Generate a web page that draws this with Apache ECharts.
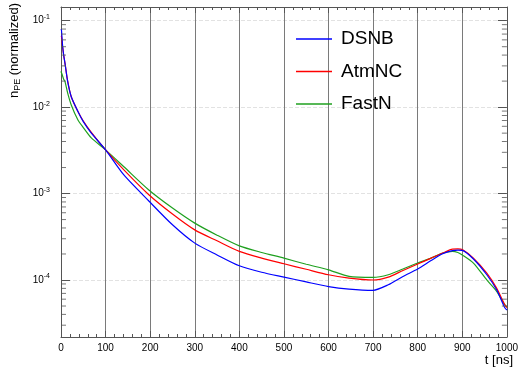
<!DOCTYPE html>
<html>
<head>
<meta charset="utf-8">
<script src="https://cdn.jsdelivr.net/npm/echarts@6/dist/echarts.min.js"></script>
<style>html,body{margin:0;padding:0;background:#fff;}#c{width:521px;height:368px;}</style>
</head>
<body>
<div id="c"></div>
<script>
var tValues = [0, 1, 3.5, 6, 9, 15, 23, 38, 50, 68, 100, 141, 197, 250, 300, 350, 400, 450, 500, 550, 600, 646, 700, 734, 767, 800, 830, 856, 878, 890, 900, 925, 955, 977, 995, 1000];
var dsnb = [0.080, 0.078, 0.052, 0.040, 0.032, 0.0197, 0.0132, 0.0089, 0.0068, 0.0050, 0.0032, 0.00164, 0.00082, 4.35e-4, 2.67e-4, 1.95e-4, 1.46e-4, 1.23e-4, 1.08e-4, 9.5e-5, 8.4e-5, 7.85e-5, 7.6e-5, 8.8e-5, 1.1e-4, 1.34e-4, 1.68e-4, 2.01e-4, 2.19e-4, 2.22e-4, 2.2e-4, 1.75e-4, 1.15e-4, 7.7e-5, 4.8e-5, 4.5e-5];
var atmNC = [0.067, 0.066, 0.050, 0.040, 0.032, 0.020, 0.0132, 0.0089, 0.0069, 0.0051, 0.0032, 0.00188, 0.00097, 5.8e-4, 3.8e-4, 2.84e-4, 2.14e-4, 1.79e-4, 1.54e-4, 1.33e-4, 1.15e-4, 1.05e-4, 1.0e-4, 1.08e-4, 1.29e-4, 1.53e-4, 1.79e-4, 2.05e-4, 2.28e-4, 2.29e-4, 2.25e-4, 1.79e-4, 1.2e-4, 8.05e-5, 5.2e-5, 4.8e-5];
var fastN = [0.026, 0.025, 0.023, 0.021, 0.0197, 0.0145, 0.0106, 0.0071, 0.0058, 0.0044, 0.0032, 0.00204, 0.0011, 6.8e-4, 4.55e-4, 3.3e-4, 2.48e-4, 2.08e-4, 1.79e-4, 1.52e-4, 1.31e-4, 1.1e-4, 1.07e-4, 1.15e-4, 1.34e-4, 1.57e-4, 1.79e-4, 2.05e-4, 2.14e-4, 2.08e-4, 1.95e-4, 1.57e-4, 1.0e-4, 7.4e-5, 5.2e-5, 4.9e-5];
var seriesNames = ['DSNB', 'AtmNC', 'FastN'];
var yMinorTicks = [3e-5, 4e-5, 5e-5, 6e-5, 7e-5, 8e-5, 9e-5, 2e-4, 3e-4, 4e-4, 5e-4, 6e-4, 7e-4, 8e-4, 9e-4, 2e-3, 3e-3, 4e-3, 5e-3, 6e-3, 7e-3, 8e-3, 9e-3, 2e-2, 3e-2, 4e-2, 5e-2, 6e-2, 7e-2, 8e-2, 9e-2];
var xMin = 0, xMax = 1000, yMin = 2.19e-5, yMax = 0.144;

function pairs(vals) { return tValues.map(function (t, i) { return [t, vals[i]]; }); }
var FONT = 'Liberation Sans';
var frame = '#555';
var chart = echarts.init(document.getElementById('c'), null, {renderer: 'canvas'});
var colors = ['#0000ff', '#ff0000', '#1fa01f'];
var lineSeries = [dsnb, atmNC, fastN].map(function (v, i) {
  return {
    name: seriesNames[i], type: 'line', data: pairs(v), showSymbol: false, symbol: 'none',
    smooth: 0.25, lineStyle: {color: colors[i], width: 1.2}, itemStyle: {color: colors[i]},
    z: 5 - i, xAxisIndex: 0, yAxisIndex: 0
  };
});
var minorLeft = {
  type: 'scatter', silent: true, symbol: 'rect', symbolSize: [5, 1], symbolOffset: [2.5, 0],
  itemStyle: {color: frame}, data: yMinorTicks.map(function (v) { return [xMin, v]; }), z: 10, clip: false
};
var minorRight = {
  type: 'scatter', silent: true, symbol: 'rect', symbolSize: [5, 1], symbolOffset: [-2.5, 0],
  itemStyle: {color: frame}, data: yMinorTicks.map(function (v) { return [xMax, v]; }), z: 10, clip: false
};
var xCommon = {
  type: 'value', min: xMin, max: xMax, interval: 100,
  axisLine: {show: true, onZero: false, lineStyle: {color: frame, width: 1}},
  axisTick: {show: true, inside: true, length: 6, lineStyle: {color: frame}},
  minorTick: {show: true, splitNumber: 5, length: 3, lineStyle: {color: frame}}
};
var yCommon = {
  type: 'log', logBase: 10, min: yMin, max: yMax,
  axisLine: {show: true, onZero: false, lineStyle: {color: frame, width: 1}},
  axisTick: {show: true, inside: true, length: 9, lineStyle: {color: frame}},
  minorTick: {show: false}
};
chart.setOption({
  animation: false,
  backgroundColor: '#fff',
  textStyle: {fontFamily: FONT},
  grid: {left: 61, right: 7, top: 7, bottom: 31, containLabel: false},
  xAxis: [
    Object.assign({}, xCommon, {
      position: 'bottom',
      axisLabel: {show: true, color: '#000', fontSize: 10, margin: 6, fontFamily: FONT,
        formatter: function (v) { return String(v); }},
      splitLine: {show: true, lineStyle: {color: '#7a7a7a', width: 1}}
    }),
    Object.assign({}, xCommon, {position: 'top', axisLabel: {show: false}, splitLine: {show: false}})
  ],
  yAxis: [
    Object.assign({}, yCommon, {
      position: 'left',
      axisLabel: {
        show: true, showMinLabel: false, showMaxLabel: false, margin: 11,
        formatter: function (v) { var e = Math.round(Math.log10(v)); return '{b|10}{p|' + e + '}'; },
        rich: {
          b: {fontSize: 10, color: '#000', fontFamily: FONT},
          p: {fontSize: 7, color: '#000', fontFamily: FONT, padding: [0, 0, 7, 0]}
        }
      },
      splitLine: {show: true, lineStyle: {color: '#e2e2e2', type: 'dashed', width: 1}}
    }),
    Object.assign({}, yCommon, {position: 'right', axisLabel: {show: false}, splitLine: {show: false}})
  ],
  legend: {
    orient: 'vertical', left: 296, top: 29, padding: 0, itemGap: 12.5,
    itemWidth: 36, itemHeight: 1.5, icon: 'rect',
    data: seriesNames,
    textStyle: {fontSize: 19, color: '#000', fontFamily: FONT, lineHeight: 20, padding: [0, 0, 0, 4]}
  },
  graphic: [
    {type: 'text', right: 8, top: 354, style: {text: 't [ns]', fontSize: 13, fill: '#000', fontFamily: FONT}},
    {type: 'text', x: 14, y: 3, rotation: Math.PI / 2,
      style: {
        text: '{n|n}{s|PE}{n| (normalized)}', align: 'right', verticalAlign: 'middle',
        rich: {
          n: {fontSize: 13, fill: '#000', fontFamily: FONT},
          s: {fontSize: 9, fill: '#000', fontFamily: FONT, padding: [8, 0, 0, 0]}
        }
      }}
  ],
  series: lineSeries.concat([minorLeft, minorRight])
});
</script>
</body>
</html>
